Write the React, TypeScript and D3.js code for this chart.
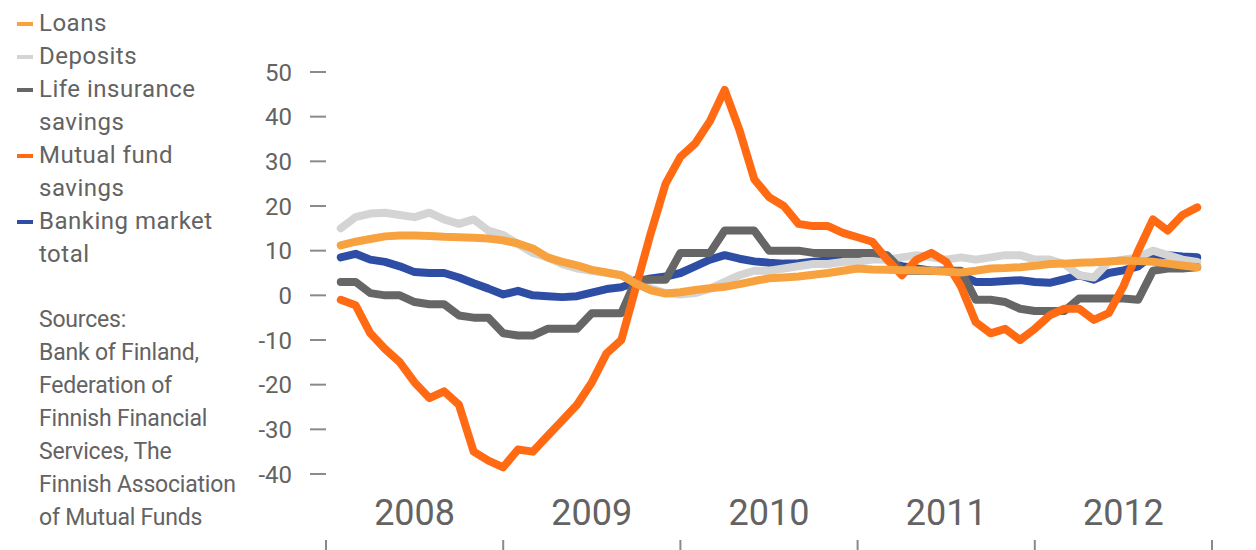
import React from "react";
import * as d3 from "d3";

const months: number[] = d3.range(1, 60);

const loans: number[] = [11.2, 12, 12.6, 13.2, 13.4, 13.4, 13.3, 13.1, 13, 12.9, 12.7, 12.3, 11.6, 10.5, 8.5, 7.5, 6.7, 5.7, 5.1, 4.5, 2.6, 1.1, 0.4, 0.7, 1.2, 1.6, 1.9, 2.5, 3.2, 3.8, 4, 4.2, 4.6, 5, 5.5, 6, 5.8, 5.7, 5.6, 5.6, 5.5, 5.3, 5.1, 5.5, 6, 6.1, 6.3, 6.6, 7, 7.1, 7.3, 7.4, 7.6, 7.8, 7.7, 7.5, 7.1, 6.7, 6.3];
const deposits: number[] = [15, 17.5, 18.3, 18.5, 18, 17.5, 18.5, 17, 16, 17, 14.5, 13.5, 11.5, 9.5, 8.5, 7, 6, 5.5, 5, 4.5, 3, 1.5, 0.5, 0.2, 0.5, 1.5, 3, 4.5, 5.5, 5.5, 6, 6.5, 7, 7, 7.5, 7.5, 8, 8, 8.5, 9, 8.5, 8, 8.5, 8, 8.5, 9, 9, 8, 8, 7, 4.5, 4, 7.5, 8, 8.5, 10, 9, 8, 7.5];
const lifeInsurance: number[] = [3, 3, 0.5, 0, 0, -1.5, -2, -2, -4.5, -5, -5, -8.5, -9, -9, -7.5, -7.5, -7.5, -4, -4, -4, 3.5, 3.5, 3.5, 9.5, 9.5, 9.5, 14.5, 14.5, 14.5, 10, 10, 10, 9.5, 9.5, 9.5, 9.5, 9.5, 9, 5.5, 5.5, 5.5, 5.5, 5.5, -1, -1, -1.5, -3, -3.5, -3.5, -3.5, -0.7, -0.7, -0.7, -0.7, -1, 5.5, 6, 6, 6.3];
const mutualFunds: number[] = [-1, -2.2, -8.5, -12, -15, -19.5, -23, -21.5, -24.5, -35, -37, -38.5, -34.5, -35, -31.5, -28, -24.5, -19.5, -13, -10, 2, 14, 25, 31, 34, 39, 46, 37, 26, 22, 20, 16, 15.5, 15.5, 14, 13, 12, 8, 4.5, 8, 9.5, 7.5, 2, -6, -8.5, -7.5, -10, -7.5, -4.5, -3, -3, -5.5, -4, 2, 10, 17, 14.5, 18, 19.7];
const bankingTotal: number[] = [8.5, 9.3, 8, 7.5, 6.5, 5.2, 5, 5, 4, 2.7, 1.5, 0.2, 1, 0, -0.2, -0.4, -0.2, 0.6, 1.4, 1.8, 3, 3.8, 4.2, 5, 6.5, 8, 9, 8.2, 7.6, 7.3, 7.1, 7.2, 7.5, 7.8, 8.2, 8.5, 8.5, 8, 6.5, 6, 5.5, 5.5, 4.5, 3, 3, 3.2, 3.4, 3, 2.8, 3.6, 4.5, 3.5, 5, 5.6, 6.5, 9, 9, 8.7, 8.5];

const yTicks: number[] = [50, 40, 30, 20, 10, 0, -10, -20, -30, -40];
const years: string[] = ["2008", "2009", "2010", "2011", "2012"];
const legendLabels: string[][] = [["Loans"], ["Deposits"], ["Life insurance", "savings"], ["Mutual fund", "savings"], ["Banking market", "total"]];
const sourceLines: string[] = ["Sources:", "Bank of Finland,", "Federation of", "Finnish Financial", "Services, The", "Finnish Association", "of Mutual Funds"];

const COLORS = {
  loans: "#f7a23e",
  deposits: "#d4d4d4",
  life: "#666666",
  mutual: "#ff6a13",
  banking: "#2e4ea5",
};
const legendColors = [COLORS.loans, COLORS.deposits, COLORS.life, COLORS.mutual, COLORS.banking];

const FONT = "Roboto, 'Noto Sans', sans-serif";
const TEXT = "#636363";

export default function App() {
  const x = d3.scaleLinear().domain([0, 60]).range([326, 1212]);
  const y = d3.scaleLinear().domain([-40, 50]).range([474, 72]);
  const line = (vals: number[]) =>
    d3
      .line<number>()
      .x((_, i) => x(months[i]))
      .y((v) => y(v))
      .curve(d3.curveLinear)(vals) || "";

  const series = [
    { v: bankingTotal, c: COLORS.banking },
    { v: deposits, c: COLORS.deposits },
    { v: lifeInsurance, c: COLORS.life },
    { v: mutualFunds, c: COLORS.mutual },
    { v: loans, c: COLORS.loans },
  ];

  let row = 0;
  const legendItems: React.ReactNode[] = [];
  legendLabels.forEach((lines, k) => {
    const base = 31 + row * 33;
    legendItems.push(
      <line key={"lm" + k} x1={17} x2={33} y1={base - 7} y2={base - 7} stroke={legendColors[k]} strokeWidth={4} />
    );
    lines.forEach((t, j) => {
      legendItems.push(
        <text key={"lt" + k + "-" + j} x={39} y={base + j * 33} fontSize={24} fill={TEXT} fontFamily={FONT} letterSpacing={0.5}>
          {t}
        </text>
      );
    });
    row += lines.length;
  });

  return (
    <svg width={1256} height={550} style={{ position: "absolute", left: 0, top: 0, background: "#fff" }}>
      <rect x={0} y={0} width={1256} height={550} fill="#fff" />
      {legendItems}
      {sourceLines.map((t, i) => (
        <text key={"s" + i} x={39} y={327 + i * 33} fontSize={23} fill={TEXT} fontFamily={FONT} letterSpacing={-0.2}>
          {t}
        </text>
      ))}
      {yTicks.map((t) => (
        <g key={"yt" + t}>
          <text x={292} y={y(t) + 8.5} textAnchor="end" fontSize={24} fill={TEXT} fontFamily={FONT}>
            {t}
          </text>
          <line x1={310} x2={326} y1={y(t)} y2={y(t)} stroke="#8a8a8a" strokeWidth={2} />
        </g>
      ))}
      {d3.range(0, 61, 12).map((m) => (
        <line key={"xt" + m} x1={x(m)} x2={x(m)} y1={540} y2={550} stroke="#8a8a8a" strokeWidth={2} />
      ))}
      {years.map((yr, k) => (
        <text key={yr} x={x(6 + 12 * k)} y={525} textAnchor="middle" fontSize={36} fill={TEXT} fontFamily={FONT}>
          {yr}
        </text>
      ))}
      {series.map((s, k) => (
        <path key={"p" + k} d={line(s.v)} fill="none" stroke={s.c} strokeWidth={8} strokeLinejoin="round" strokeLinecap="round" />
      ))}
    </svg>
  );
}
